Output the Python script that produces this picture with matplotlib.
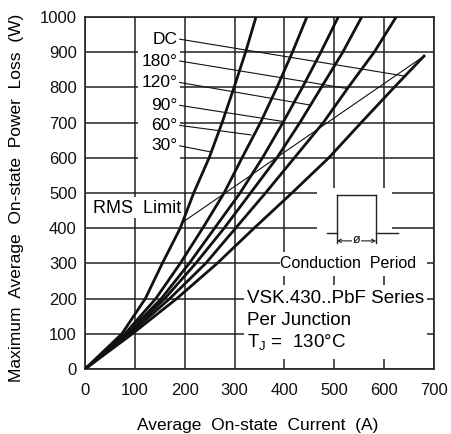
import matplotlib
matplotlib.use("Agg")
import matplotlib.pyplot as plt
from matplotlib.patches import Rectangle

plt.rcParams['font.family'] = ['Liberation Sans', 'DejaVu Sans']

# power loss levels (W) and the average current (A) read for each curve
power = [0, 100, 200, 300, 400, 500, 600, 700, 800, 900, 1000]
i_30 = [0, 74, 121, 155, 191, 218, 249, 275, 299, 322, 343]
i_60 = [0, 80, 142, 191, 236, 279, 315, 352, 385, 416, 445]
i_90 = [0, 84, 153, 209, 260, 311, 356, 397, 436, 473, 508]
i_120 = [0, 87, 160, 222, 279, 332, 385, 431, 474, 517, 555]
i_180 = [0, 90, 170, 242, 302, 362, 420, 478, 528, 580, 624]
power_dc = [0, 100, 200, 300, 400, 500, 600, 700, 800, 889]
i_dc = [0, 95, 184, 265, 339, 415, 489, 554, 620, 680]

# RMS limit line
rms_i = [197, 680]
rms_p = [418, 889]

# curve labels, label height (W) and where the leader touches the curve
labels = ['DC', '180°', '120°', '90°', '60°', '30°']
label_p = [937, 875, 814, 749, 692, 634]
leader_i = [642, 525, 451, 398, 333, 251]
leader_p = [832, 797, 750, 703, 665, 617]

fig = plt.figure(figsize=(4.51, 4.34), dpi=100)
ax = fig.add_axes([85 / 451, 65 / 434, 349 / 451, 352 / 434])

ax.set_xlim(0, 700)
ax.set_ylim(0, 1000)
ax.set_xticks(range(0, 701, 100))
ax.set_yticks(range(0, 1001, 100))
ax.tick_params(length=0, labelsize=12, colors='#111111')
ax.tick_params(axis='x', pad=10)
ax.tick_params(axis='y', pad=6)
ax.set_axisbelow(True)
ax.grid(True, color='#222222', linewidth=1.1)
for s in ax.spines.values():
    s.set_linewidth(1.2)
    s.set_color('#222222')

# white areas behind the texts (grid is broken there)
for x0, y0, w, h in [(107, 588, 83, 400), (8, 430, 188, 58),
                     (465, 333, 150, 181), (391, 265, 295, 68),
                     (318, 28, 368, 212)]:
    ax.add_patch(Rectangle((x0, y0), w, h, facecolor='white',
                           edgecolor='none', zorder=1))

for xs, ys in [(i_30, power), (i_60, power), (i_90, power),
               (i_120, power), (i_180, power), (i_dc, power_dc)]:
    ax.plot(xs, ys, color='#111111', linewidth=2.0, zorder=3,
            solid_joinstyle='round')

ax.plot(rms_i, rms_p, color='#111111', linewidth=0.8, zorder=3)

for lab, lp, li, lpp in zip(labels, label_p, leader_i, leader_p):
    ax.text(186, lp, lab, ha='right', va='center', fontsize=12.5, zorder=4)
    ax.plot([190, li], [lp, lpp], color='#111111', linewidth=0.8, zorder=3)

ax.text(16, 457, 'RMS  Limit', ha='left', va='center', fontsize=13, zorder=4)

# conduction period inset
ax.plot([485, 505], [385, 385], color='#222222', linewidth=1.0, zorder=3)
ax.plot([584, 628], [385, 385], color='#222222', linewidth=1.0, zorder=3)
ax.plot([505, 505], [357, 494], color='#222222', linewidth=1.0, zorder=3)
ax.plot([584, 584], [357, 494], color='#222222', linewidth=1.0, zorder=3)
ax.plot([505, 584], [494, 494], color='#222222', linewidth=1.0, zorder=3)
ax.annotate('', xy=(505, 364), xytext=(584, 364),
            arrowprops=dict(arrowstyle='<->', color='#222222', lw=0.8,
                            shrinkA=0, shrinkB=0, mutation_scale=6), zorder=3)
ax.text(544, 366, 'ø', ha='center', va='center', fontsize=9, zorder=4,
        bbox=dict(facecolor='white', edgecolor='none', pad=0.5))
ax.text(527, 300, 'Conduction  Period', ha='center', va='center',
        fontsize=11.5, zorder=4)

ax.text(324, 201, 'VSK.430..PbF Series', ha='left', va='center', fontsize=13.5, zorder=4)
ax.text(324, 139, 'Per Junction', ha='left', va='center', fontsize=13.5, zorder=4)
ax.text(324, 73, r'T$_\mathregular{J}$ =  130°C', ha='left', va='center',
        fontsize=13.5, zorder=4)

ax.set_xlabel('Average  On-state  Current  (A)', fontsize=12.5)
ax.set_ylabel('Maximum  Average  On-state  Power  Loss  (W)', fontsize=12.5)
ax.xaxis.set_label_coords(0.495, -0.14)
ax.yaxis.set_label_coords(-0.175, 0.485)

fig.savefig('out.png', dpi=100)
